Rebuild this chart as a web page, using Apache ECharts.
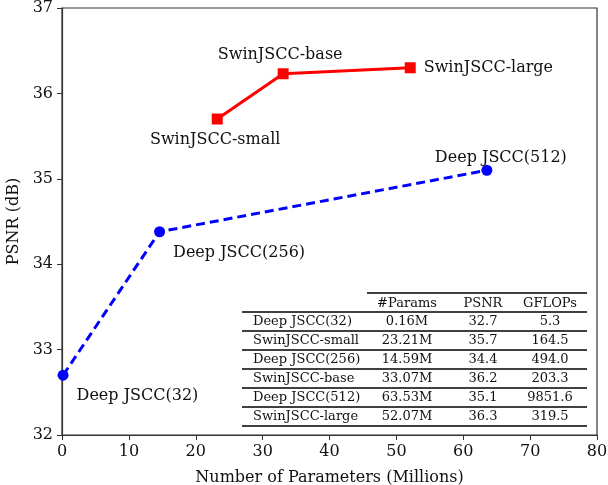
<!DOCTYPE html>
<html><head><meta charset="utf-8">
<script src="https://cdn.jsdelivr.net/npm/echarts@6/dist/echarts.min.js"></script>
<style>html,body{margin:0;padding:0;background:#fff}#c{width:608px;height:485px}</style>
</head><body><div id="c"></div>
<script>
// ---- data ----
const deepNames = ['Deep JSCC(32)', 'Deep JSCC(256)', 'Deep JSCC(512)'];
const deepParams = [0.16, 14.59, 63.53];
const deepPSNR = [32.7, 34.38, 35.1];
const swinNames = ['SwinJSCC-small', 'SwinJSCC-base', 'SwinJSCC-large'];
const swinParams = [23.21, 33.07, 52.07];
const swinPSNR = [35.7, 36.23, 36.3];
const tableHeader = ['', '#Params', 'PSNR', 'GFLOPs'];
const tableModels = ['Deep JSCC(32)', 'SwinJSCC-small', 'Deep JSCC(256)', 'SwinJSCC-base', 'Deep JSCC(512)', 'SwinJSCC-large'];
const tableParams = ['0.16M', '23.21M', '14.59M', '33.07M', '63.53M', '52.07M'];
const tablePSNR = ['32.7', '35.7', '34.4', '36.2', '35.1', '36.3'];
const tableGFLOPs = ['5.3', '164.5', '494.0', '203.3', '9851.6', '319.5'];
const xTicks = [0, 10, 20, 30, 40, 50, 60, 70, 80];
const yTicks = [32, 33, 34, 35, 36, 37];

// ---- layout/styles ----
const FONT = 'DejaVu Serif';
const deepLabelPos = [
  {position: 'right', offset: [3, 21]},
  {position: 'right', offset: [3, 21]},
  {position: 'top', offset: [14, 6]}
];
const swinLabelPos = [
  {position: 'bottom', offset: [-2, 2]},
  {position: 'top', offset: [-3, 0]},
  {position: 'right', offset: [3, 0]}
];

function mkData(xs, ys, names, pos) {
  return xs.map((x, i) => ({
    value: [x, ys[i]], name: names[i],
    label: Object.assign({show: true, formatter: names[i], fontFamily: FONT, fontSize: 16, color: '#111'}, pos[i])
  }));
}

// table graphic
const tbl = [];
const colX = [253, 407, 483, 550];
const fullL = 242, fullR = 587, hdrL = 367;
const rowTop = 293, hdrBottom = 312, rowH = 19;
function hline(x1, x2, y) {
  tbl.push({type: 'line', shape: {x1, y1: y, x2, y2: y}, style: {stroke: '#000', lineWidth: 1.3}, z: 10});
}
function txt(t, x, y, align) {
  tbl.push({type: 'text', x, y, style: {text: t, font: '13px "DejaVu Serif"', fill: '#111', textAlign: align, textVerticalAlign: 'middle'}, z: 11});
}
hline(hdrL, fullR, rowTop);
for (let c = 1; c < 4; c++) txt(tableHeader[c], colX[c], (rowTop + hdrBottom) / 2 + 1, 'center');
hline(fullL, fullR, hdrBottom);
tableModels.forEach((m, i) => {
  const yc = hdrBottom + rowH * i + rowH / 2 + 0.5;
  txt(m, colX[0], yc, 'left');
  txt(tableParams[i], colX[1], yc, 'center');
  txt(tablePSNR[i], colX[2], yc, 'center');
  txt(tableGFLOPs[i], colX[3], yc, 'center');
  hline(fullL, fullR, hdrBottom + rowH * (i + 1));
});
tbl.unshift({type: 'rect', shape: {x: fullL - 4, y: rowTop - 3, width: fullR - fullL + 8, height: hdrBottom + rowH * 6 - rowTop + 6}, style: {fill: '#fff'}, z: 9});

const chart = echarts.init(document.getElementById('c'));
chart.setOption({
  animation: false,
  backgroundColor: '#fff',
  grid: {left: 62, right: 11, top: 8, bottom: 50, containLabel: false, outerBoundsMode: 'none',
    show: true, borderColor: '#333', borderWidth: 1.2, backgroundColor: 'transparent'},
  xAxis: {
    type: 'value', min: 0, max: 80, interval: 10,
    name: 'Number of Parameters (Millions)', nameLocation: 'middle', nameGap: 35,
    nameTextStyle: {fontFamily: FONT, fontSize: 16, color: '#111'},
    axisLine: {show: true, lineStyle: {color: '#333', width: 1.2}},
    axisTick: {show: true, length: 5, lineStyle: {color: '#333'}},
    axisLabel: {fontFamily: FONT, fontSize: 16, color: '#111', margin: 9,
      formatter: v => xTicks.includes(v) ? String(v) : ''},
    splitLine: {show: false}
  },
  yAxis: {
    type: 'value', min: 32, max: 37, interval: 1,
    name: 'PSNR (dB)', nameLocation: 'middle', nameGap: 33,
    nameTextStyle: {fontFamily: FONT, fontSize: 16, color: '#111'},
    axisLine: {show: true, lineStyle: {color: '#333', width: 1.2}},
    axisTick: {show: true, length: 5, lineStyle: {color: '#333'}},
    axisLabel: {fontFamily: FONT, fontSize: 16, color: '#111', margin: 9,
      formatter: v => yTicks.includes(v) ? String(v) : ''},
    splitLine: {show: false}
  },
  series: [
    {
      type: 'line', name: 'Deep JSCC', data: mkData(deepParams, deepPSNR, deepNames, deepLabelPos),
      lineStyle: {color: '#0000ff', width: 3, type: [9, 5]},
      itemStyle: {color: '#0000ff'}, symbol: 'circle', symbolSize: 11, z: 5
    },
    {
      type: 'line', name: 'SwinJSCC', data: mkData(swinParams, swinPSNR, swinNames, swinLabelPos),
      lineStyle: {color: '#ff0000', width: 3},
      itemStyle: {color: '#ff0000'}, symbol: 'rect', symbolSize: 11, z: 5
    }
  ],
  graphic: tbl
});
</script></body></html>
